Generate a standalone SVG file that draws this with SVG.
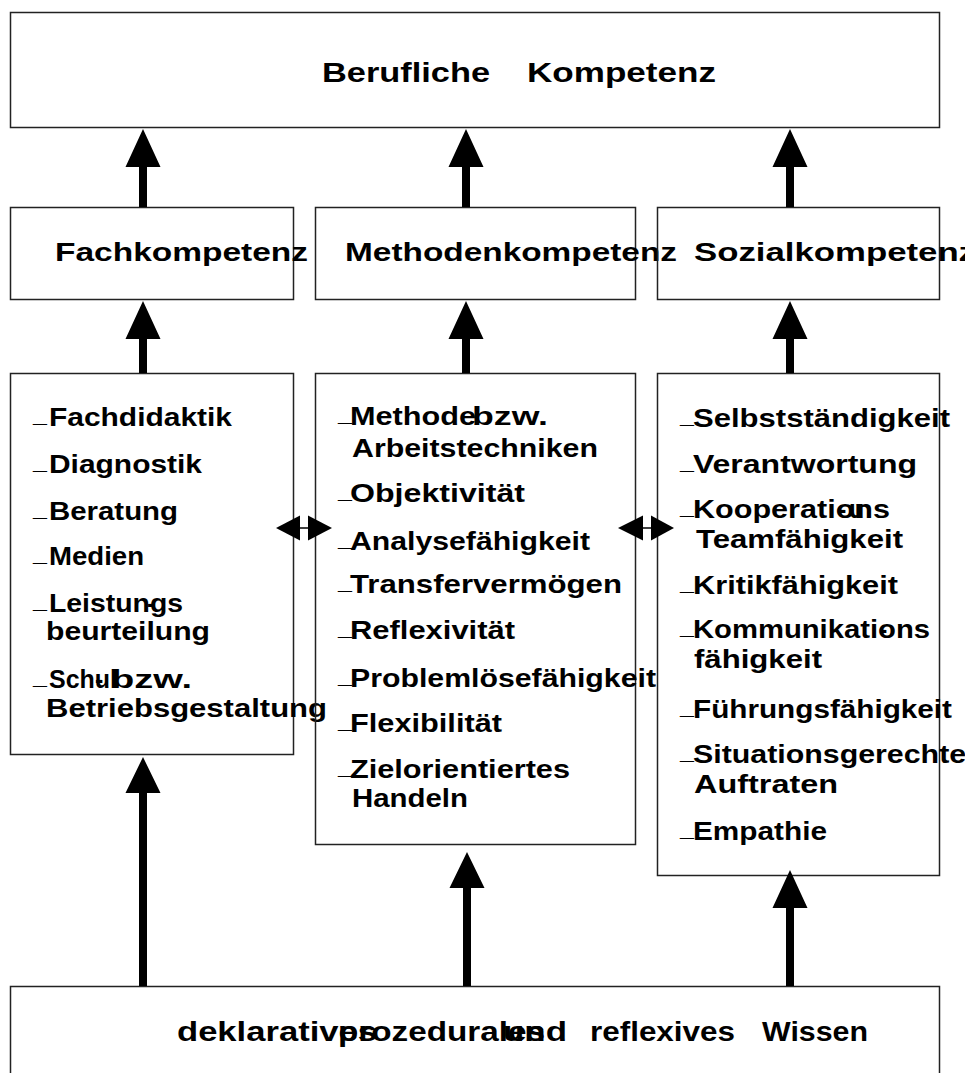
<svg xmlns="http://www.w3.org/2000/svg" width="965" height="1073" viewBox="0 0 965 1073">
<style>
.box{fill:none;stroke:#222;stroke-width:1.5}
.t{font-family:"Liberation Sans",Arial,sans-serif;font-weight:bold;font-size:25px;fill:#000}
.big{font-size:28px}
.arr{fill:#000;stroke:none}
.thin{stroke:#000;stroke-width:1.5;fill:none}
</style>
<rect width="965" height="1073" fill="#fff"/>
<g id="n-top">
<rect class="box" x="10.5" y="12.5" width="929" height="115"/>
<text class="t big" x="322" y="82" textLength="168" lengthAdjust="spacingAndGlyphs">Berufliche</text>
<text class="t big" x="527" y="82" textLength="189" lengthAdjust="spacingAndGlyphs">Kompetenz</text>
</g>
<g id="n-fach">
<rect class="box" x="10.5" y="207.5" width="283" height="92"/>
<text class="t" x="55" y="261" textLength="253" lengthAdjust="spacingAndGlyphs">Fachkompetenz</text>
</g>
<g id="n-meth">
<rect class="box" x="315.5" y="207.5" width="320" height="92"/>
<text class="t" x="345" y="261" textLength="332" lengthAdjust="spacingAndGlyphs">Methodenkompetenz</text>
</g>
<g id="n-sozial">
<rect class="box" x="657.5" y="207.5" width="282" height="92"/>
<text class="t" x="694" y="261" textLength="282" lengthAdjust="spacingAndGlyphs">Sozialkompetenz</text>
</g>
<g id="n-fach-list">
<rect class="box" x="10.5" y="373.5" width="283" height="381"/>
<text class="t" x="33" y="422">_</text><text class="t" x="49" y="426" textLength="183" lengthAdjust="spacingAndGlyphs">Fachdidaktik</text>
<text class="t" x="33" y="469">_</text><text class="t" x="49" y="473" textLength="153" lengthAdjust="spacingAndGlyphs">Diagnostik</text>
<text class="t" x="33" y="516">_</text><text class="t" x="49" y="520" textLength="129" lengthAdjust="spacingAndGlyphs">Beratung</text>
<text class="t" x="33" y="561">_</text><text class="t" x="49" y="565" textLength="95" lengthAdjust="spacingAndGlyphs">Medien</text>
<text class="t" x="33" y="608">_</text><text class="t" x="49" y="612" textLength="134" lengthAdjust="spacingAndGlyphs">Leistungs</text><text class="t" x="147" y="612">-</text>
<text class="t" x="46" y="640" textLength="164" lengthAdjust="spacingAndGlyphs">beurteilung</text>
<text class="t" x="33" y="684">_</text><text class="t" x="49" y="688" textLength="68" lengthAdjust="spacingAndGlyphs">Schul</text><text class="t" x="95" y="688">-</text><text class="t" x="111" y="688" textLength="81" lengthAdjust="spacingAndGlyphs">bzw.</text>
<text class="t" x="46" y="717" textLength="281" lengthAdjust="spacingAndGlyphs">Betriebsgestaltung</text>
</g>
<g id="n-meth-list">
<rect class="box" x="315.5" y="373.5" width="320" height="471"/>
<text class="t" x="338" y="421">_</text><text class="t" x="350" y="425" textLength="126" lengthAdjust="spacingAndGlyphs">Methode</text><text class="t" x="472" y="425" textLength="76" lengthAdjust="spacingAndGlyphs">bzw.</text>
<text class="t" x="352" y="457" textLength="246" lengthAdjust="spacingAndGlyphs">Arbeitstechniken</text>
<text class="t" x="338" y="498">_</text><text class="t" x="350" y="502" textLength="175" lengthAdjust="spacingAndGlyphs">Objektivität</text>
<text class="t" x="338" y="546">_</text><text class="t" x="350" y="550" textLength="240" lengthAdjust="spacingAndGlyphs">Analysefähigkeit</text>
<text class="t" x="338" y="589">_</text><text class="t" x="350" y="593" textLength="272" lengthAdjust="spacingAndGlyphs">Transfervermögen</text>
<text class="t" x="338" y="635">_</text><text class="t" x="350" y="639" textLength="165" lengthAdjust="spacingAndGlyphs">Reflexivität</text>
<text class="t" x="338" y="683">_</text><text class="t" x="350" y="687" textLength="306" lengthAdjust="spacingAndGlyphs">Problemlösefähigkeit</text>
<text class="t" x="338" y="728">_</text><text class="t" x="350" y="732" textLength="152" lengthAdjust="spacingAndGlyphs">Flexibilität</text>
<text class="t" x="338" y="774">_</text><text class="t" x="350" y="778" textLength="220" lengthAdjust="spacingAndGlyphs">Zielorientiertes</text>
<text class="t" x="352" y="807" textLength="116" lengthAdjust="spacingAndGlyphs">Handeln</text>
</g>
<g id="n-sozial-list">
<rect class="box" x="657.5" y="373.5" width="282" height="502"/>
<text class="t" x="680" y="423">_</text><text class="t" x="693" y="427" textLength="257" lengthAdjust="spacingAndGlyphs">Selbstständigkeit</text>
<text class="t" x="680" y="469">_</text><text class="t" x="693" y="473" textLength="224" lengthAdjust="spacingAndGlyphs">Verantwortung</text>
<text class="t" x="680" y="514">_</text><text class="t" x="693" y="518" textLength="197" lengthAdjust="spacingAndGlyphs">Kooperations</text><text class="t" x="838" y="518">-</text><text class="t" x="849" y="518">u</text>
<text class="t" x="696" y="548" textLength="207" lengthAdjust="spacingAndGlyphs">Teamfähigkeit</text>
<text class="t" x="680" y="590">_</text><text class="t" x="693" y="594" textLength="205" lengthAdjust="spacingAndGlyphs">Kritikfähigkeit</text>
<text class="t" x="680" y="634">_</text><text class="t" x="693" y="638" textLength="237" lengthAdjust="spacingAndGlyphs">Kommunikations</text><text class="t" x="879" y="638">-</text>
<text class="t" x="694" y="668" textLength="128" lengthAdjust="spacingAndGlyphs">fähigkeit</text>
<text class="t" x="680" y="714">_</text><text class="t" x="693" y="718" textLength="259" lengthAdjust="spacingAndGlyphs">Führungsfähigkeit</text>
<text class="t" x="680" y="759">_</text><text class="t" x="693" y="763" textLength="290" lengthAdjust="spacingAndGlyphs">Situationsgerechtes</text>
<text class="t" x="694" y="793" textLength="144" lengthAdjust="spacingAndGlyphs">Auftraten</text>
<text class="t" x="680" y="836">_</text><text class="t" x="693" y="840" textLength="134" lengthAdjust="spacingAndGlyphs">Empathie</text>
</g>
<g id="n-wissen">
<rect class="box" x="10.5" y="986.5" width="929" height="100"/>
<text class="t big" x="177" y="1041" textLength="200" lengthAdjust="spacingAndGlyphs">deklaratives</text>
<text class="t big" x="338" y="1041" textLength="207" lengthAdjust="spacingAndGlyphs">prozedurales</text>
<text class="t big" x="503" y="1041" textLength="64" lengthAdjust="spacingAndGlyphs">und</text>
<text class="t big" x="590" y="1041" textLength="145" lengthAdjust="spacingAndGlyphs">reflexives</text>
<text class="t big" x="762" y="1041" textLength="106" lengthAdjust="spacingAndGlyphs">Wissen</text>
</g>
<g id="connectors">
<path class="arr" d="M143,129 L160.5,167 L147,167 L147,207 L139,207 L139,167 L125.5,167 Z"/>
<path class="arr" d="M466,129 L483.5,167 L470,167 L470,207 L462,207 L462,167 L448.5,167 Z"/>
<path class="arr" d="M790,129 L807.5,167 L794,167 L794,207 L786,207 L786,167 L772.5,167 Z"/>
<path class="arr" d="M143,301 L160.5,339 L147,339 L147,373 L139,373 L139,339 L125.5,339 Z"/>
<path class="arr" d="M466,301 L483.5,339 L470,339 L470,373 L462,373 L462,339 L448.5,339 Z"/>
<path class="arr" d="M790,301 L807.5,339 L794,339 L794,373 L786,373 L786,339 L772.5,339 Z"/>
<path class="arr" d="M143,757 L160.5,793 L147,793 L147,986 L139,986 L139,793 L125.5,793 Z"/>
<path class="arr" d="M467,852 L484.5,888 L471,888 L471,986 L463,986 L463,888 L449.5,888 Z"/>
<path class="arr" d="M790,870 L807.5,908 L794,908 L794,986 L786,986 L786,908 L772.5,908 Z"/>
<path class="arr" d="M276,528 L300,515.5 L300,540.5 Z"/>
<path class="arr" d="M332,528 L308,515.5 L308,540.5 Z"/>
<path class="thin" d="M300,528 H308"/>
<path class="arr" d="M618,528 L643,515.5 L643,540.5 Z"/>
<path class="arr" d="M674,528 L651,515.5 L651,540.5 Z"/>
<path class="thin" d="M643,528 H651"/>
</g>
</svg>
